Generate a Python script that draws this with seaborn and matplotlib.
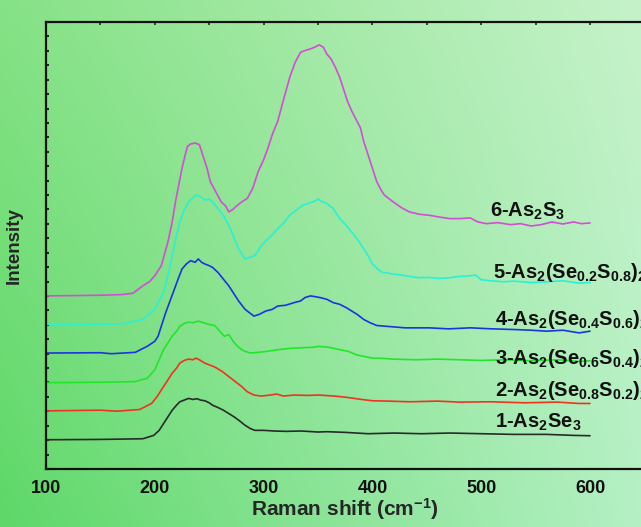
import numpy as np
import pandas as pd
import matplotlib
matplotlib.use("Agg")
import matplotlib.pyplot as plt
import seaborn as sns
from matplotlib import font_manager

# ---------------- data ----------------
x6 = [100,150,170,180,189,195,200,206,212,216,219,222,225,228,230,233,237,241,244,248,
      251,256,261,265,268,272,276,280,285,290,295,300,304,308,313,318,324,329,334,338,
      343,347,351,355,358,362,366,370,373,377,381,385,389,392,396,400,404,408,411,415,
      419,427,434,443,452,461,471,480,490,494,497,505,515,527,536,546,555,565,575,585,
      592,600]
y6 = [515,517,519,523,545,557,575,605,675,735,795,845,895,935,960,967,970,965,935,895,
      855,825,795,783,765,773,785,795,805,835,885,920,955,995,1035,1095,1165,1210,1240,1245,
      1250,1255,1262,1255,1235,1220,1195,1165,1135,1095,1065,1040,1015,975,935,895,855,830,815,805,
      795,777,765,758,755,750,745,745,747,740,735,730,733,727,730,723,727,735,729,735,
      730,732]

x5 = [100,150,170,189,200,208,212,216,220,223,227,231,235,238,242,246,250,253,258,263,
      268,272,277,283,288,292,298,304,309,313,318,324,330,336,341,347,350,354,358,364,
      370,376,381,387,392,396,400,405,409,414,419,427,434,443,452,461,471,480,490,495,
      500,509,520,530,546,560,575,590,600]
y5 = [430,431,432,445,475,525,575,635,695,735,770,795,807,815,810,800,803,795,775,755,
      725,695,655,625,630,635,665,685,700,715,730,755,770,785,790,797,803,795,790,775,
      745,725,705,680,655,635,610,595,585,583,580,577,573,569,570,567,569,573,575,577,
      563,560,557,559,555,557,560,553,555]

x4 = [100,150,160,182,193,200,203,207,210,214,218,222,225,229,233,237,240,243,246,250,
      253,258,263,268,272,277,283,287,291,296,302,308,313,320,328,334,338,343,347,352,
      358,364,370,376,381,386,392,398,404,411,419,430,452,470,490,510,530,546,560,575,
      590,600]
y4 = [345,346,343,347,365,380,395,435,465,500,535,570,595,610,620,615,625,615,610,605,
      600,585,565,545,525,500,475,465,455,460,470,475,485,487,495,500,510,515,513,510,
      505,495,490,480,470,460,445,435,427,425,423,420,420,417,420,417,415,413,410,413,
      405,410]

x3 = [100,150,182,193,200,204,208,212,216,220,223,227,231,235,240,245,250,255,261,264,
      268,272,276,280,283,288,295,303,313,325,336,345,351,360,370,378,385,392,400,410,
      419,440,460,480,500,520,546,570,590,600]
y3 = [257,258,260,270,295,325,355,375,395,410,425,433,437,435,440,435,430,427,405,395,
      400,380,365,355,350,345,347,350,355,359,361,362,365,362,355,350,340,335,330,329,
      327,325,327,325,323,325,322,325,320,322]

x2 = [100,150,165,186,197,202,206,211,216,220,223,227,231,235,238,242,246,250,254,257,
      262,268,274,280,285,291,298,306,312,318,328,340,351,365,377,390,400,415,434,460,
      480,509,540,570,590,600]
y2 = [173,175,172,177,195,215,235,260,285,300,315,323,327,325,330,323,315,310,305,300,
      290,275,260,245,230,220,217,220,223,217,220,219,220,217,213,207,203,202,200,202,
      199,200,197,199,195,195]

x1 = [100,150,170,189,199,204,208,212,216,220,223,227,231,235,239,242,246,250,253,258,
      263,268,273,278,283,288,292,300,310,321,335,350,358,375,396,420,445,471,500,530,
      560,585,600]
y1 = [87,88,89,90,100,115,135,155,175,190,200,205,210,207,209,205,203,197,190,183,
      175,165,155,143,130,120,115,115,113,112,113,110,111,109,105,107,105,107,105,103,
      103,100,99]

series_names = ["1", "2", "3", "4", "5", "6"]
labels = [r"1-As$_2$Se$_3$",
          r"2-As$_2$(Se$_{0.8}$S$_{0.2}$)$_2$",
          r"3-As$_2$(Se$_{0.6}$S$_{0.4}$)$_2$",
          r"4-As$_2$(Se$_{0.4}$S$_{0.6}$)$_2$",
          r"5-As$_2$(Se$_{0.2}$S$_{0.8}$)$_2$",
          r"6-As$_2$S$_3$"]
label_x = [512.5, 512.5, 512.5, 512.5, 511, 508]
label_y = [123, 217, 312, 428, 568, 752]
colors = ["#2a2a2a", "#ee3322", "#22e62a", "#1a34e0", "#2af0d4", "#d24ed2"]

xs = [x1, x2, x3, x4, x5, x6]
ys = [y1, y2, y3, y4, y5, y6]
df = pd.concat([pd.DataFrame({"x": xx, "y": yy, "s": n})
                for xx, yy, n in zip(xs, ys, series_names)], ignore_index=True)

# ---------------- figure ----------------
sns.set_theme(style="white")
avail = {f.name for f in font_manager.fontManager.ttflist}
fam = "Liberation Sans Narrow" if "Liberation Sans Narrow" in avail else "Liberation Sans"
plt.rcParams["font.family"] = [fam, "DejaVu Sans"]
plt.rcParams["mathtext.fontset"] = "custom"
plt.rcParams["mathtext.rm"] = fam
plt.rcParams["mathtext.it"] = fam
plt.rcParams["mathtext.bf"] = fam + ":bold"
plt.rcParams["mathtext.default"] = "regular"

W, H = 641, 527
fig = plt.figure(figsize=(W / 100, H / 100), dpi=100)

# gradient background
bg = fig.add_axes([0, 0, 1, 1], zorder=-10)
tl = np.array([0x86, 0xe2, 0x86]) / 255
bl = np.array([0x5e, 0xd8, 0x68]) / 255
tr = np.array([0xc6, 0xf2, 0xca]) / 255
br = np.array([0xb4, 0xf0, 0xc4]) / 255
u = np.linspace(0, 1, 200)[None, :, None]
v = np.linspace(0, 1, 160)[:, None, None]
img = (1 - v) * ((1 - u) * tl + u * tr) + v * ((1 - u) * bl + u * br)
bg.imshow(img, aspect="auto", extent=[0, 1, 0, 1], interpolation="bilinear")
bg.axis("off")

ax_left = 46 / W
ax_bottom = (H - 469) / H
ax_h = (469 - 22) / H
px_per_unit = (590 - 46) / 500
ax_w = 550 * px_per_unit / W
ax = fig.add_axes([ax_left, ax_bottom, ax_w, ax_h])
ax.set_facecolor("none")

sns.lineplot(data=df, x="x", y="y", hue="s", palette=dict(zip(series_names, colors)),
             sort=False, estimator=None, linewidth=1.2, legend=False, ax=ax)

for lab, lx, ly in zip(labels, label_x, label_y):
    ax.text(lx, ly, lab, fontsize=14.5, fontweight="bold", color="#111111",
            va="baseline", ha="left", clip_on=False)

ax.set_xlim(100, 650)
ax.set_ylim(0, 1330)
ax.set_xticks([100, 200, 300, 400, 500, 600])
ax.set_xticks([150, 250, 350, 450, 550], minor=True)
ax.set_yticks(np.linspace(0, 1330, 32))
ax.set_yticklabels([])
ax.tick_params(axis="x", which="major", direction="out", length=5, width=1.5,
               labelsize=13, pad=3, colors="#111111", top=False)
ax.tick_params(axis="x", which="minor", direction="out", length=4, width=1.2, top=False)
ax.tick_params(axis="y", which="major", direction="in", length=2.5, width=1.5, left=True)
for t in ax.get_xticklabels():
    t.set_fontweight("bold")
# small ticks on top spine
secx = ax.secondary_xaxis("top")
secx.set_xticks([150, 200, 250, 300, 350, 400, 450, 500, 550, 600])
secx.set_xticklabels([])
secx.tick_params(direction="in", length=2, width=1.2)
secx.spines["top"].set_linewidth(0)

for sp in ax.spines.values():
    sp.set_linewidth(1.6)
    sp.set_color("#111111")

ax.set_xlabel(r"Raman shift (cm$^{-1}$)", fontsize=15, fontweight="bold", labelpad=-1)
ax.set_ylabel("Intensity", fontsize=13.5, fontweight="bold", labelpad=13)

fig.savefig("out.png", dpi=100)
